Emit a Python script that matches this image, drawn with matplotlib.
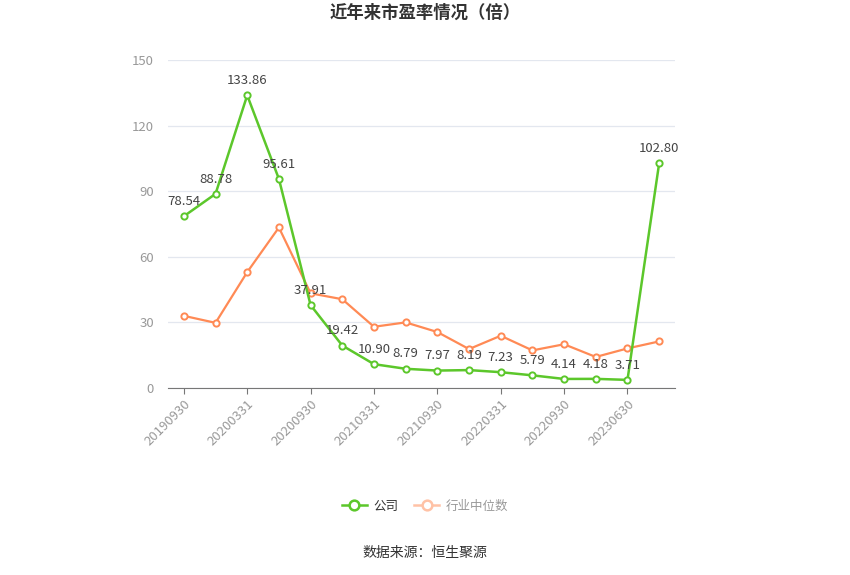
import matplotlib.pyplot as plt
from matplotlib.lines import Line2D

plt.rcParams['font.family'] = ['Noto Sans CJK SC', 'DejaVu Sans']

dates = ['20190930', '20191231', '20200331', '20200630', '20200930', '20201231',
         '20210331', '20210630', '20210930', '20211231', '20220331', '20220630',
         '20220930', '20221231', '20230630', '20230930']
company_pe = [78.54, 88.78, 133.86, 95.61, 37.91, 19.42, 10.90, 8.79, 7.97, 8.19,
              7.23, 5.79, 4.14, 4.18, 3.71, 102.80]
industry_pe = [33.0, 29.8, 53.0, 73.4, 43.3, 40.6, 28.0, 30.0, 25.6, 17.8,
               23.9, 17.2, 20.0, 14.2, 18.1, 21.3]
y_ticks = [0, 30, 60, 90, 120, 150]

green = '#5cc72b'
orange = '#ff8a55'

fig = plt.figure(figsize=(8.5, 5.75), dpi=100)
ax = fig.add_axes([168 / 850, 1 - 388 / 575, 507 / 850, 328 / 575])

x = list(range(len(dates)))
ax.plot(x, industry_pe, color=orange, lw=1.6, marker='o', ms=4.5,
        mfc='white', mec=orange, mew=1.4, zorder=3)
ax.plot(x, company_pe, color=green, lw=1.8, marker='o', ms=4.5,
        mfc='white', mec=green, mew=1.4, zorder=4)

for xi, v in zip(x, company_pe):
    ax.annotate(f'{v:.2f}', (xi, v), xytext=(0, 6), textcoords='offset points',
                ha='center', va='bottom', fontsize=9.5, color='#444444', zorder=5)

ax.set_xlim(-0.5, len(dates) - 0.5)
ax.set_ylim(0, 150)
ax.set_yticks(y_ticks)
ax.set_yticklabels([str(t) for t in y_ticks])
ax.yaxis.grid(True, color='#e3e7ef', lw=0.9)
ax.set_axisbelow(True)

ax.set_xticks(x[::2])
ax.set_xticklabels(dates[::2], rotation=45, ha='right', va='top',
                   rotation_mode='anchor')

for side in ['top', 'right', 'left']:
    ax.spines[side].set_visible(False)
ax.spines['bottom'].set_color('#777777')
ax.tick_params(axis='y', length=0, labelsize=9.5, labelcolor='#999999', pad=10)
ax.tick_params(axis='x', length=4, color='#777777', labelsize=9.5,
               labelcolor='#999999', pad=3)

fig.text(0.5, 1 - 13 / 575, '近年来市盈率情况（倍）', ha='center', va='center',
         fontsize=12.5, fontweight='bold', color='#333333')

handles = [
    Line2D([0], [0], color=green, lw=1.8, marker='o', ms=7, mfc='white',
           mec=green, mew=1.8),
    Line2D([0], [0], color='#ffc2a6', lw=1.8, marker='o', ms=7, mfc='white',
           mec='#ffc2a6', mew=1.8),
]
leg = fig.legend(handles, ['公司', '行业中位数'], loc='center',
                 bbox_to_anchor=(0.5, 1 - 506 / 575), ncol=2, frameon=False,
                 fontsize=9, handlelength=2.0, columnspacing=1.3,
                 handletextpad=0.5)
leg.get_texts()[0].set_color('#333333')
leg.get_texts()[1].set_color('#999999')

fig.text(0.5, 1 - 553 / 575, '数据来源：恒生聚源', ha='center', va='center',
         fontsize=10, color='#333333')

fig.savefig('out.png', dpi=100)
